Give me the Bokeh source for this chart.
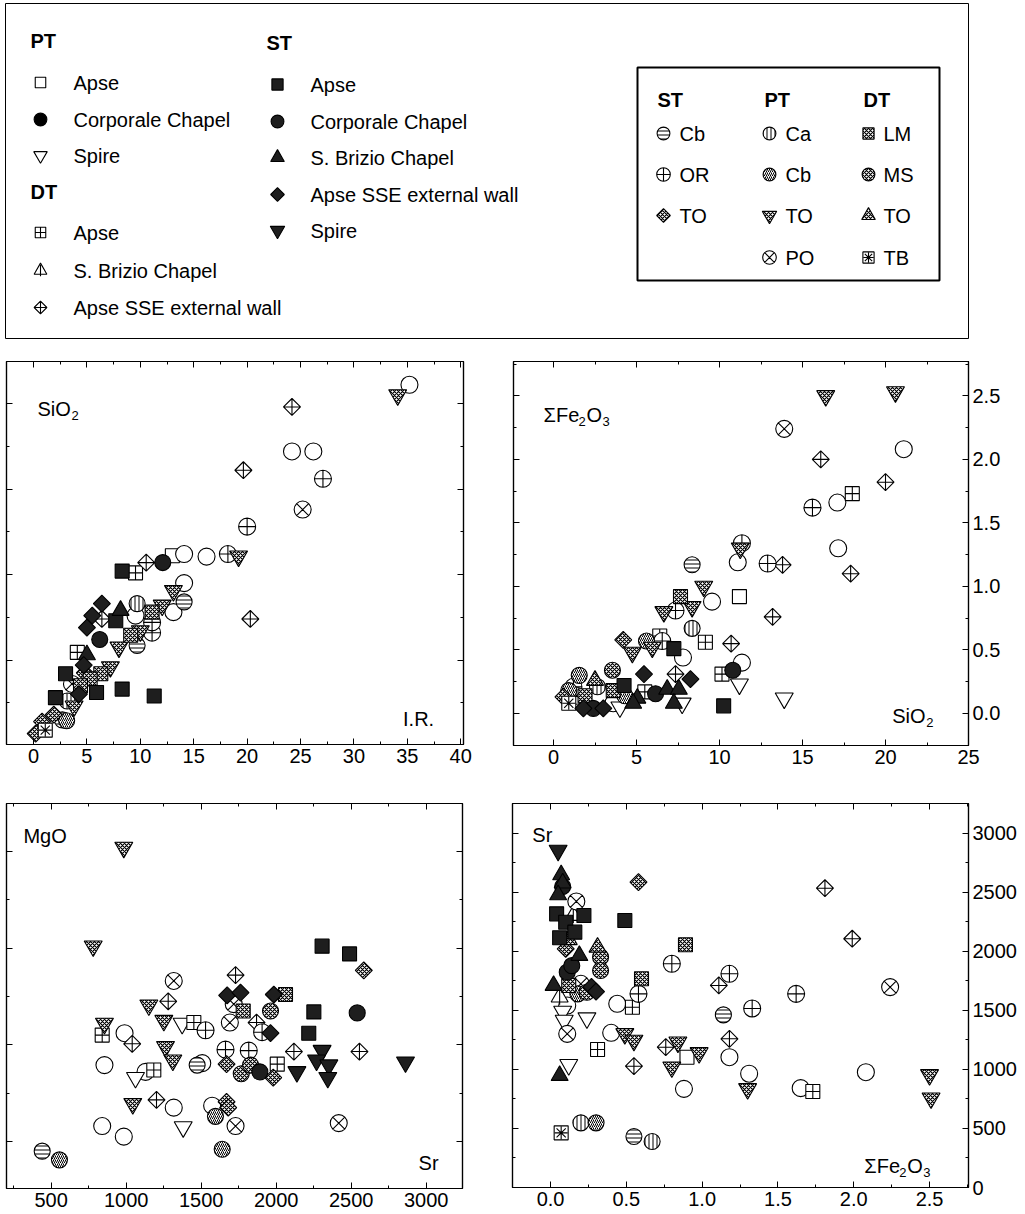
import math
from bokeh.plotting import figure
from bokeh.layouts import column, row
from bokeh.models import Range1d, FixedTicker, LinearAxis, Label, PrintfTickFormatter
from bokeh.embed import file_html
from bokeh.resources import INLINE
from bokeh.core.properties import value

FONT = "Liberation Sans"
INK = "black"
DARK = "#1e1e1e"

# ---------------- data ----------------
# Panel a: I.R. (x) vs SiO2 (y)
IR_SIO2 = {
    "PT_Apse": [(13.0, 11.1)],
    "PT_Corp": [(14.1, 11.2), (16.2, 11.05), (24.2, 17.2), (26.2, 17.2), (35.2, 21.1),
                (14.1, 9.5), (13.1, 7.8), (9.55, 7.6)],
    "DT_Apse": [(9.55, 10.1), (4.1, 5.45)],
    "DT_SSE": [(10.55, 10.7), (19.65, 16.1), (20.3, 7.4), (24.2, 19.8), (6.4, 7.4)],
    "ST_OR": [(18.2, 11.2), (20.0, 12.8), (27.1, 15.6), (11.1, 6.6), (11.1, 7.2)],
    "PT_TO": [(19.2, 11.07), (34.1, 20.5), (13.1, 9.05), (12.05, 8.2), (8.0, 5.75),
              (7.2, 4.6), (10.0, 6.7), (3.8, 2.3)],
    "PT_PO": [(25.2, 13.8), (3.6, 3.6)],
    "ST_Cb": [(14.1, 8.4), (9.7, 5.85), (2.7, 1.5)],
    "PT_Ca": [(9.7, 8.3), (3.15, 2.6)],
    "PT_Cb": [(3.1, 1.45)],
    "DT_LM": [(11.1, 7.8), (9.1, 6.45), (6.3, 4.2), (5.3, 3.9), (4.4, 3.5)],
    "ST_TO": [(4.8, 4.25), (1.9, 1.8), (0.2, 0.7), (0.8, 1.4)],
    "DT_TB": [(1.1, 0.9)],
    "ST_Apse": [(8.3, 10.2), (7.7, 7.3), (3.0, 4.2), (5.9, 3.1), (8.3, 3.3), (11.3, 2.9), (2.05, 2.8)],
    "ST_Corp": [(12.1, 10.7), (6.2, 6.2)],
    "ST_Brizio": [(8.15, 7.9), (5.0, 5.3)],
    "ST_SSE": [(6.4, 8.3), (5.5, 7.6), (5.0, 6.9), (4.7, 4.7), (4.25, 3.0)],
}

# Panel b: SiO2 (x) vs sum Fe2O3 (y)
SIO2_FE = {
    "PT_Apse": [(11.2, 0.92)],
    "PT_Corp": [(21.1, 2.08), (17.1, 1.66), (17.15, 1.30), (11.1, 1.19), (9.55, 0.88),
                (7.8, 0.44), (11.35, 0.40), (3.6, 0.08)],
    "PT_Spire": [(13.9, 0.12), (11.2, 0.23), (7.75, 0.08), (4.0, 0.05)],
    "DT_Apse": [(18.0, 1.73), (9.15, 0.56), (6.4, 0.61), (10.15, 0.31), (5.5, 0.17)],
    "DT_SSE": [(16.1, 2.0), (20.0, 1.82), (13.8, 1.17), (17.9, 1.10), (13.2, 0.76),
               (10.7, 0.55), (7.35, 0.31), (0.7, 0.12)],
    "ST_OR": [(15.6, 1.62), (12.9, 1.18), (11.35, 1.34), (7.35, 0.81), (6.55, 0.57), (1.2, 0.21)],
    "PT_TO": [(16.4, 2.50), (20.6, 2.53), (11.25, 1.30), (9.05, 1.0), (6.65, 0.80),
              (8.35, 0.84), (4.75, 0.48), (5.95, 0.52)],
    "PT_PO": [(13.9, 2.24), (1.4, 0.14)],
    "ST_Cb": [(8.35, 1.17)],
    "DT_LM": [(7.65, 0.92), (3.6, 0.18), (1.9, 0.14)],
    "PT_Ca": [(8.35, 0.67), (2.65, 0.21)],
    "PT_Cb": [(1.55, 0.30), (0.92, 0.18), (4.3, 0.14), (5.6, 0.57)],
    "ST_TO": [(4.2, 0.58), (0.6, 0.13)],
    "DT_MS": [(3.55, 0.34)],
    "DT_TO": [(2.5, 0.26)],
    "DT_TB": [(0.92, 0.08)],
    "ST_Apse": [(7.25, 0.51), (10.25, 0.06), (4.25, 0.22)],
    "ST_Corp": [(10.8, 0.34), (6.15, 0.155), (2.4, 0.04)],
    "ST_Brizio": [(6.85, 0.19), (7.55, 0.19), (7.25, 0.08), (5.05, 0.12), (4.8, 0.08)],
    "ST_SSE": [(5.45, 0.31), (8.25, 0.27), (1.8, 0.04), (3.0, 0.04)],
}

# Panel c: Sr (x) vs MgO (y)
SR_MGO = {
    "PT_Corp": [(989, 2.12), (855, 1.79), (1129, 1.72), (1507, 1.81), (1317, 1.35),
                (1573, 1.37), (840, 1.16), (984, 1.05)],
    "PT_Spire": [(1373, 2.22), (1062, 1.66), (1380, 1.15)],
    "DT_Apse": [(1451, 2.23), (840, 2.10), (1184, 1.74), (2007, 1.80)],
    "DT_SSE": [(1729, 2.72), (1280, 2.45), (1040, 2.01), (1202, 1.43), (1869, 2.23),
               (2118, 1.93), (2555, 1.93)],
    "ST_OR": [(1529, 2.15), (1662, 1.95), (1906, 2.13), (1817, 1.94)],
    "PT_TO": [(984, 4.04), (780, 3.02), (1151, 2.41), (1251, 2.25), (855, 2.22),
              (1262, 1.98), (1311, 1.84), (1044, 1.39)],
    "PT_PO": [(1317, 2.66), (1717, 2.42), (1691, 2.23), (1729, 1.16), (2417, 1.19)],
    "DT_LM": [(1780, 2.35), (2062, 2.52)],
    "ST_Cb": [(1473, 1.79), (440, 0.90)],
    "ST_TO": [(1669, 1.80), (1669, 1.41), (1680, 1.35), (2584, 2.77), (1980, 1.66)],
    "DT_MS": [(1767, 1.70), (1962, 2.35), (1829, 1.79)],
    "PT_Cb": [(1595, 1.26), (1640, 0.92), (555, 0.81)],
    "ST_Apse": [(2306, 3.02), (2489, 2.94), (2251, 2.34), (2217, 2.12)],
    "ST_Corp": [(2540, 2.33), (1891, 1.72)],
    "ST_SSE": [(1673, 2.51), (1762, 2.54), (1984, 2.52), (1962, 2.12)],
    "ST_Spire": [(2306, 1.94), (2269, 1.84), (2351, 1.79), (2344, 1.66), (2138, 1.72), (2862, 1.82)],
}

# Panel d: sum Fe2O3 (x) vs Sr (y)
FE_SR = {
    "PT_Apse": [(0.90, 1104)],
    "PT_Corp": [(2.08, 977), (1.31, 964), (1.65, 842), (0.44, 1557), (0.11, 1542),
                (0.40, 1311), (1.18, 1104), (0.88, 836)],
    "PT_Spire": [(0.08, 1492), (0.24, 1436), (0.09, 1415), (0.12, 1040)],
    "DT_Apse": [(1.73, 814), (0.54, 1528), (0.31, 1169)],
    "DT_Brizio": [(0.15, 2305), (0.06, 1613)],
    "DT_SSE": [(1.81, 2536), (1.99, 2108), (1.11, 1712), (0.76, 1189), (1.18, 1260), (0.55, 1028)],
    "ST_OR": [(1.62, 1641), (1.33, 1517), (0.80, 1896), (0.58, 1641), (1.18, 1811)],
    "PT_TO": [(1.30, 836), (2.50, 955), (2.51, 757), (0.49, 1302), (0.55, 1246),
              (0.84, 1231), (0.98, 1141), (0.80, 1020)],
    "PT_PO": [(2.24, 1698), (0.17, 2424), (0.20, 1726), (0.11, 1302)],
    "ST_Cb": [(1.14, 1463), (0.55, 432)],
    "ST_TO": [(0.58, 2587), (0.10, 2023)],
    "DT_LM": [(0.89, 2057), (0.60, 1769), (0.12, 1712)],
    "DT_MS": [(0.33, 1952), (0.33, 1839), (0.24, 1655)],
    "DT_TO": [(0.12, 2100), (0.31, 2036)],
    "PT_Cb": [(0.18, 1641), (0.30, 548)],
    "PT_Ca": [(0.20, 548), (0.67, 390)],
    "DT_TB": [(0.07, 463)],
    "ST_Apse": [(0.04, 2319), (0.22, 2305), (0.10, 2248), (0.49, 2263), (0.06, 2116), (0.16, 2164)],
    "ST_Corp": [(0.11, 1825), (0.08, 2550), (0.14, 1880)],
    "ST_Brizio": [(0.07, 2650), (0.08, 2580), (0.05, 2480), (0.02, 1712), (0.06, 949), (0.19, 1966)],
    "ST_SSE": [(0.27, 1700), (0.30, 1660)],
    "ST_Spire": [(0.05, 2856)],
}

ORDER = ["PT_Apse", "PT_Corp", "PT_Spire", "DT_Apse", "DT_Brizio", "DT_SSE", "ST_OR", "PT_PO",
         "ST_Cb", "PT_Ca", "PT_Cb", "PT_TO", "ST_TO", "DT_LM", "DT_MS", "DT_TO", "DT_TB",
         "ST_Apse", "ST_Corp", "ST_Brizio", "ST_SSE", "ST_Spire"]

Q = math.pi / 4
CHK = dict(hatch="diagonal_cross", hs=4, hw=1.2)
STY = {
    "PT_Apse": dict(marker="square", size=14, fill="white"),
    "PT_Corp": dict(marker="circle", size=17, fill="white"),
    "PT_Spire": dict(marker="inverted_triangle", size=18, fill="white"),
    "DT_Apse": dict(marker="square_cross", size=14, fill="white"),
    "DT_Brizio": dict(marker="triangle", size=17, fill="white",
                      over=dict(marker="dash", size=15, angle=math.pi / 2)),
    "DT_SSE": dict(marker="square_x", size=12, angle=Q, fill="white"),
    "ST_Apse": dict(marker="square", size=14, fill=DARK),
    "ST_Corp": dict(marker="circle", size=16, fill=DARK),
    "ST_Brizio": dict(marker="triangle", size=17, fill=DARK),
    "ST_SSE": dict(marker="square", size=12, angle=Q, fill=DARK),
    "ST_Spire": dict(marker="inverted_triangle", size=18, fill=DARK),
    "ST_Cb": dict(marker="circle", size=16, fill="white", hatch="horizontal_line", hs=4, hw=1.0),
    "ST_OR": dict(marker="circle_cross", size=17, fill="white"),
    "ST_TO": dict(marker="square", size=12, angle=Q, fill="white", **CHK),
    "PT_Ca": dict(marker="circle", size=16, fill="white", hatch="vertical_line", hs=4, hw=1.0),
    "PT_Cb": dict(marker="circle", size=16, fill="white", hatch="right_diagonal_line", hs=4, hw=1.0),
    "PT_TO": dict(marker="inverted_triangle", size=18, fill="white", **CHK),
    "PT_PO": dict(marker="circle_x", size=17, fill="white"),
    "DT_LM": dict(marker="square", size=14, fill="white", **CHK),
    "DT_MS": dict(marker="circle", size=16, fill="white", **CHK),
    "DT_TO": dict(marker="triangle", size=17, fill="white", **CHK),
    "DT_TB": dict(marker="square", size=14, fill="white",
                  over=dict(marker="asterisk", size=13)),
}


def draw_group(p, key, xs, ys, k=1.0):
    if not xs:
        return
    st = STY[key]
    kw = dict(marker=st["marker"], size=st["size"] * k, angle=st.get("angle", 0),
              fill_color=st["fill"], line_color=INK, line_width=1.1)
    if "hatch" in st:
        kw.update(hatch_pattern=st["hatch"], hatch_color=INK,
                  hatch_scale=st["hs"], hatch_weight=st["hw"])
    p.scatter(x=xs, y=ys, **kw)
    if "over" in st:
        o = st["over"]
        p.scatter(x=xs, y=ys, marker=o["marker"], size=o["size"] * k, angle=o.get("angle", 0),
                  line_color=INK, line_width=1.1, fill_color=None)


def make_axis(ticks, minor, labels, fmt=None):
    ax = LinearAxis(ticker=FixedTicker(ticks=ticks, minor_ticks=minor))
    ax.axis_line_color = INK
    ax.axis_line_width = 1.2
    ax.major_tick_in = 6
    ax.major_tick_out = 0
    ax.minor_tick_in = 3
    ax.minor_tick_out = 0
    ax.major_tick_line_color = INK
    ax.minor_tick_line_color = INK
    if labels:
        ax.major_label_text_font = FONT
        ax.major_label_text_font_size = "20px"
        ax.major_label_text_color = INK
        ax.major_label_standoff = 4
        if fmt:
            ax.formatter = PrintfTickFormatter(format=fmt)
    else:
        ax.major_label_text_font_size = "0px"
        ax.major_label_standoff = 0
        ax.major_label_overrides = {t: "" for t in ticks}
    return ax


def panel(xr, yr, fw, fh, borders, xt, yt, right_labels):
    l, r, t, b = borders
    p = figure(frame_width=fw, frame_height=fh, x_range=Range1d(*xr), y_range=Range1d(*yr),
               min_border_left=l, min_border_right=r, min_border_top=t, min_border_bottom=b,
               toolbar_location=None, output_backend="svg",
               x_axis_location=None, y_axis_location=None)
    p.outline_line_color = INK
    p.outline_line_width = 1.2
    p.background_fill_color = "white"
    p.border_fill_color = "white"
    p.xgrid.grid_line_color = None
    p.ygrid.grid_line_color = None
    xfmt = xt[2] if len(xt) > 2 else None
    yfmt = yt[2] if len(yt) > 2 else None
    p.add_layout(make_axis(xt[0], xt[1], True, xfmt), "below")
    p.add_layout(make_axis(xt[0], xt[1], False), "above")
    p.add_layout(make_axis(yt[0], yt[1], False), "left")
    p.add_layout(make_axis(yt[0], yt[1], right_labels, yfmt), "right")
    return p


def put_text(p, x, y, parts):
    for txt, dx, sub in parts:
        p.add_layout(Label(x=x, y=y, text=txt, x_offset=dx, y_offset=-7 if sub else 0,
                           text_font=FONT, text_font_size="13px" if sub else "20px",
                           text_color=INK, text_align="left", text_baseline="alphabetic"))


def fill_panel(p, data):
    for key in ORDER:
        pts = data.get(key, [])
        draw_group(p, key, [q[0] for q in pts], [q[1] for q in pts])


SIO2_PARTS = [("SiO", 0, False), ("2", 34, True)]
FE_PARTS = [("\u03a3Fe", 0, False), ("2", 35, True), ("O", 43, False), ("3", 59, True)]

# ---------------- panel a ----------------
pa = panel((-2.53, 40.26), (0.06, 22.46), 457, 383, (6, 27, 16, 31),
           ([0, 5, 10, 15, 20, 25, 30, 35, 40], [2.5, 7.5, 12.5, 17.5, 22.5, 27.5, 32.5, 37.5]),
           ([0, 5, 10, 15, 20], [2.5, 7.5, 12.5, 17.5]), False)
fill_panel(pa, IR_SIO2)
put_text(pa, 0.37, 19.7, SIO2_PARTS)
put_text(pa, 34.6, 1.58, [("I.R.", 0, False)])

# ---------------- panel b ----------------
pb = panel((-2.41, 25.0), (-0.252, 2.77), 455, 384, (23, 57, 16, 30),
           ([0, 5, 10, 15, 20, 25], [2.5, 7.5, 12.5, 17.5, 22.5]),
           ([0, 0.5, 1.0, 1.5, 2.0, 2.5], [0.25, 0.75, 1.25, 1.75, 2.25, 2.75], "%.1f"), True)
fill_panel(pb, SIO2_FE)
put_text(pb, -0.6, 2.35, FE_PARTS)
put_text(pb, 20.4, -0.016, SIO2_PARTS)

# ---------------- panel c ----------------
pc = panel((202, 3242), (0.514, 4.495), 456, 385, (6, 28, 28, 26),
           ([500, 1000, 1500, 2000, 2500, 3000], [250, 750, 1250, 1750, 2250, 2750, 3250]),
           ([1, 2, 3, 4], [1.5, 2.5, 3.5]), False)
fill_panel(pc, SR_MGO)
put_text(pc, 315, 4.16, [("MgO", 0, False)])
put_text(pc, 2949, 0.78, [("Sr", 0, False)])

# ---------------- panel d ----------------
pd_ = panel((-0.251, 2.757), (0, 3254), 456, 384, (22, 57, 28, 27),
            ([0, 0.5, 1.0, 1.5, 2.0, 2.5], [0.25, 0.75, 1.25, 1.75, 2.25, 2.75], "%.1f"),
            ([0, 500, 1000, 1500, 2000, 2500, 3000], [250, 750, 1250, 1750, 2250, 2750, 3250]), True)
fill_panel(pd_, FE_SR)
put_text(pd_, -0.12, 2983, [("Sr", 0, False)])
put_text(pd_, 2.07, 186, FE_PARTS)

# ---------------- legend block ----------------
lg = figure(frame_width=1025, frame_height=345, x_range=Range1d(0, 1025), y_range=Range1d(345, 0),
            min_border=0, toolbar_location=None, output_backend="svg",
            x_axis_location=None, y_axis_location=None)
lg.outline_line_color = None
lg.xgrid.grid_line_color = None
lg.ygrid.grid_line_color = None
lg.quad(left=[5], right=[968], top=[3], bottom=[338], fill_color=None, line_color=INK, line_width=1)
lg.quad(left=[637], right=[939], top=[67], bottom=[280], fill_color=None, line_color=INK, line_width=2)

TXT = dict(text_font=value(FONT), text_font_size=value("20px"), text_baseline="middle",
           text_align="left", text_color=INK)
BOLD = dict(TXT, text_font_style="bold")

lg.text(x=[30, 266, 30], y=[40, 42, 191], text=["PT", "ST", "DT"], **BOLD)
left_items = [("PT_Apse", "Apse", 82), ("PT_CorpLegend", "Corporale Chapel", 119), ("PT_Spire", "Spire", 155),
              ("DT_Apse", "Apse", 232), ("DT_Brizio", "S. Brizio Chapel", 270),
              ("DT_SSE", "Apse SSE external wall", 307)]
STY["PT_CorpLegend"] = dict(marker="circle", size=17, fill="black")
for key, name, yy in left_items:
    draw_group(lg, key, [40], [yy], 0.75)
lg.text(x=[73] * len(left_items), y=[it[2] for it in left_items], text=[it[1] for it in left_items], **TXT)

st_items = [("ST_Apse", "Apse", 84), ("ST_Corp", "Corporale Chapel", 121),
            ("ST_Brizio", "S. Brizio Chapel", 157), ("ST_SSE", "Apse SSE external wall", 194),
            ("ST_Spire", "Spire", 230)]
for key, name, yy in st_items:
    draw_group(lg, key, [277], [yy], 0.8)
lg.text(x=[310] * len(st_items), y=[it[2] for it in st_items], text=[it[1] for it in st_items], **TXT)

lg.text(x=[657, 764, 863], y=[99, 99, 99], text=["ST", "PT", "DT"], **BOLD)
box_cols = [
    (663, 679, [("ST_Cb", "Cb"), ("ST_OR", "OR"), ("ST_TO", "TO")]),
    (769, 785, [("PT_Ca", "Ca"), ("PT_Cb", "Cb"), ("PT_TO", "TO"), ("PT_PO", "PO")]),
    (868, 883, [("DT_LM", "LM"), ("DT_MS", "MS"), ("DT_TO", "TO"), ("DT_TB", "TB")]),
]
rows_y = [133, 174, 215, 257]
for mx, tx, items in box_cols:
    for (key, name), yy in zip(items, rows_y):
        draw_group(lg, key, [mx], [yy], 0.8)
    lg.text(x=[tx] * len(items), y=rows_y[:len(items)], text=[it[1] for it in items], **TXT)

layout = column(lg, row(pa, pb), row(pc, pd_))
open("out.html", "w").write(file_html(layout, INLINE))
